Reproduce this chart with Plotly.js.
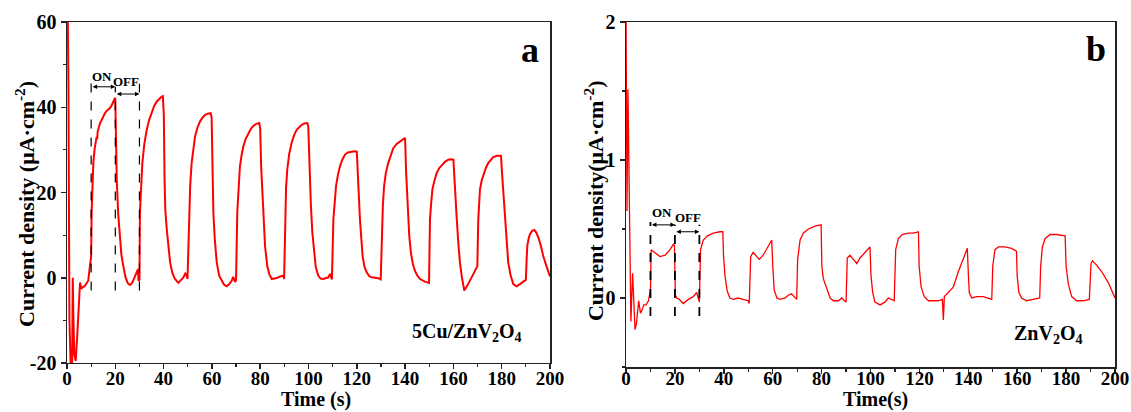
<!DOCTYPE html>
<html>
<head>
<meta charset="utf-8">
<script src="https://cdn.plot.ly/plotly-3.0.1.min.js"></script>
<style>html,body{margin:0;padding:0;background:#fff;}</style>
</head>
<body>
<div id="chart" style="width:1131px;height:412px;"></div>
<script>
// Panel a: 5Cu/ZnV2O4
const tA = [0, 0.6, 1.0, 1.6, 2.1, 2.4, 2.6, 3.0, 3.6, 4.2, 4.8, 5.4, 5.9, 6.5, 7.3, 8.0, 8.8, 9.5, 10.0,
  10.2, 10.9, 11.5, 12.0, 12.3, 12.5, 12.7, 13.7, 14.5, 15.7, 16.5, 17.8, 18.6, 19.3, 19.9,
  20.0, 20.3, 20.6, 21.2, 21.9, 22.5, 23.3, 24.2, 25.2, 26.1, 27.0, 28.0, 28.9, 29.4, 29.6, 30.0,
  30.2, 30.6, 31.2, 32.0, 33.0, 34.0, 35.1, 36.1, 37.1, 38.2, 39.2, 39.7,
  40.1, 40.4, 40.7, 41.3, 42.0, 42.7, 43.6, 44.7, 46.1, 47.2, 48.2, 49.0, 49.5, 49.9,
  50.5, 51.0, 51.6, 52.3, 53.0, 54.0, 55.1, 56.2, 57.2, 58.3, 59.5,
  59.9, 60.2, 60.6, 61.2, 62.0, 63.0, 64.0, 65.0, 66.1, 67.2, 68.2, 68.8, 69.6, 70.0,
  70.5, 71.0, 71.6, 72.3, 73.0, 74.0, 75.1, 76.1, 77.1, 78.3, 79.6,
  80.0, 80.4, 80.9, 81.4, 82.0, 82.9, 83.8, 84.8, 86.2, 87.2, 88.2, 89.6, 89.9,
  90.3, 90.7, 91.2, 92.0, 93.0, 94.0, 95.1, 96.1, 97.2, 98.3, 99.5,
  99.9, 100.4, 101.0, 101.6, 102.3, 103.0, 104.0, 105.0, 106.1, 107.2, 108.2, 108.9, 109.7,
  110.3, 110.8, 111.4, 112.2, 113.0, 114.0, 115.1, 116.3, 117.5, 119.0, 120.0,
  120.5, 121.3, 122.4, 123.2, 124.1, 125.1, 126.2, 127.5, 128.9, 129.9,
  130.3, 130.8, 131.3, 132.0, 133.0, 134.0, 135.1, 136.5, 137.9, 139.0, 140.0,
  140.4, 141.1, 141.7, 142.4, 143.2, 144.1, 145.1, 146.2, 147.2, 148.2, 149.9,
  150.3, 150.8, 151.3, 152.2, 153.1, 154.1, 155.2, 156.5, 157.9, 159.0, 160.0,
  160.5, 161.4, 162.0, 162.7, 163.5, 164.5, 165.7, 166.9, 168.2, 169.6, 169.9,
  170.3, 171.0, 171.7, 172.4, 173.4, 174.4, 175.5, 176.5, 178.0, 179.7,
  180.2, 181.4, 182.0, 182.7, 183.7, 184.8, 186.2, 187.2, 188.3, 189.2, 190.0,
  190.3, 190.6, 191.2, 191.7, 192.6, 193.5, 194.3, 195.2, 196.2, 197.2, 198.6, 200.0];
const jA = [80, 45, -10, -22, -22, 0, -8, -18, -19.5, -14, -6, -1.1, -2.6, -2.2, -2.0, -1.5, -0.7, 2.8, 5,
  15.3, 26.9, 30.5, 32.5, 33.1, 32.5, 34.3, 36.3, 37.3, 38.6, 39.2, 39.8, 40.6, 41.7, 42.2,
  42.0, 33, 23, 15, 9, 5.5, 2.8, 0.2, -1.3, -1.7, -1.2, 0.2, 1.6, 2.0, -0.7, -0.5,
  15.3, 21.5, 26.9, 31.3, 34.7, 37.0, 39.0, 40.3, 41.3, 42.0, 42.5, 42.6,
  38, 23, 16, 11.4, 6.8, 3.6, 1.2, -0.3, -1.2, -0.6, 0.1, 1.0, 0.6, -0.3,
  15.3, 21.5, 26.9, 30.5, 33.1, 35.2, 36.7, 37.6, 38.2, 38.5, 38.6,
  37.5, 25, 15.3, 9, 3.6, 0.5, -0.7, -1.6, -2.0, -1.5, -0.7, 0.2, -1.0, -0.5,
  15.3, 21, 26.1, 28.8, 30.8, 32.6, 33.9, 34.9, 35.6, 36.1, 36.3,
  35, 26, 19.1, 12.5, 7.5, 2.8, 0.8, -0.3, -0.2, 0.0, 0.3, 0.5, -0.3,
  15.3, 21, 25.4, 29, 31.6, 33.4, 34.7, 35.4, 35.9, 36.2, 36.3,
  35.5, 26, 16.8, 10.5, 5.9, 2.5, 0.5, -0.2, -0.3, -0.1, 0.1, 0.9, -0.4,
  13.7, 18, 21.5, 24.2, 26.1, 27.7, 28.9, 29.4, 29.6, 29.7, 29.6,
  22, 13.7, 5.1, 2.5, 1.3, 0.4, 0.1, 0.0, -0.1, -0.4,
  11.4, 17, 21.5, 24.5, 26.9, 28.8, 30.4, 31.4, 32.0, 32.5, 32.8,
  25, 15.3, 10, 5.9, 3.3, 1.6, 0.5, -0.3, -0.6, -0.9, -1.2,
  13.7, 17.5, 20.7, 22.9, 24.6, 25.7, 26.5, 27.2, 27.7, 27.8, 27.7,
  22, 13.7, 8.5, 3.6, 0.2, -3.0, -1.9, -0.7, 0.8, 2.4, 2.6,
  13.7, 20.7, 22.8, 24.2, 25.7, 26.9, 27.7, 28.3, 28.6, 28.6,
  24, 13.7, 8.5, 3.6, 0.5, -1.5, -2.0, -1.7, -1.2, -0.8, -0.5,
  4, 7.5, 9.3, 10.2, 11.0, 11.2, 10.6, 9.4, 7.5, 5.1, 2.6, 0.3];

// Panel b: ZnV2O4
const tB = [0, 0.4, 0.8, 1.8, 2.0, 2.7, 3.7, 4.3, 5.2, 5.9, 6.5, 7.3, 8.2, 9.2, 9.6, 10.0,
  10.3, 11.9, 13.9, 16.0, 18.0, 19.4, 19.8,
  20.2, 20.7, 21.8, 23.4, 25.5, 27.5, 28.9, 29.6, 30.0,
  30.5, 31.6, 33.3, 35.7, 38.4, 39.6,
  39.9, 40.5, 41.4, 42.5, 43.9, 45.9, 47.9, 50.0, 50.4,
  51.0, 52.0, 53.4, 54.5, 56.1, 58.2, 59.6,
  60.0, 60.6, 61.7, 63.0, 65.1, 66.4, 67.7, 68.8, 69.8,
  70.2, 71.2, 72.5, 74.6, 77.3, 79.3, 79.8,
  80.1, 80.7, 82.1, 83.5, 84.8, 86.9, 88.2, 89.6, 90.0,
  90.5, 91.6, 93.0, 94.4, 95.7, 97.8, 99.8,
  100.2, 100.9, 101.8, 103.9, 105.9, 107.3, 108.6, 109.7,
  110.3, 111.4, 113.0, 115.5, 117.5, 119.6,
  119.9, 120.7, 122.0, 123.7, 125.7, 127.7, 129.4, 129.8, 130.2, 130.7,
  132.5, 133.9, 135.9, 138.0, 139.6,
  140.0, 140.4, 141.4, 143.4, 146.1, 148.1, 149.6,
  150.0, 150.9, 152.3, 155.0, 157.7, 159.7,
  160.0, 160.7, 161.8, 163.8, 166.5, 169.2,
  169.6, 170.3, 171.4, 173.4, 176.1, 179.6,
  180.0, 180.9, 182.3, 184.3, 187.0, 189.5,
  190.2, 190.8, 192.4, 194.6, 197.3, 199.3, 200.0];
const jB = [2.1, 0.63, 1.51, 0.28, -0.17, 0.18, -0.23, -0.18, -0.02, -0.11, -0.09, -0.05, -0.05, -0.02, 0.04, 0.06,
  0.35, 0.33, 0.30, 0.31, 0.35, 0.39, 0.38,
  0.02, 0.0, -0.01, -0.04, -0.01, 0.01, 0.04, -0.01, -0.03,
  0.35, 0.42, 0.45, 0.47, 0.48, 0.48,
  0.30, 0.16, 0.05, 0.0, -0.01, 0.0, -0.01, -0.02, -0.04,
  0.30, 0.33, 0.30, 0.28, 0.31, 0.37, 0.42,
  0.24, 0.06, 0.0, -0.01, 0.0, 0.02, 0.03, 0.01, -0.01,
  0.28, 0.42, 0.47, 0.50, 0.52, 0.53, 0.53,
  0.23, 0.14, 0.07, 0.0, -0.02, -0.02, 0.0, -0.02, -0.03,
  0.29, 0.31, 0.28, 0.25, 0.29, 0.33, 0.37,
  0.16, 0.04, -0.03, -0.05, -0.03, 0.0, -0.01, -0.02,
  0.35, 0.43, 0.46, 0.47, 0.47, 0.48,
  0.23, 0.08, 0.01, -0.02, -0.02, -0.02, -0.01, -0.16, 0.01, 0.02,
  0.05, 0.08, 0.19, 0.29, 0.36,
  0.18, 0.04, 0.0, 0.01, 0.01, 0.0, -0.01,
  0.23, 0.35, 0.37, 0.37, 0.36, 0.34,
  0.16, 0.04, 0.0, -0.02, -0.01, 0.0,
  0.23, 0.37, 0.43, 0.46, 0.46, 0.45,
  0.23, 0.10, 0.01, -0.02, -0.02, -0.01,
  0.25, 0.27, 0.24, 0.19, 0.11, 0.02, 0.0];

// Tick labels
const xTicks = [0, 20, 40, 60, 80, 100, 120, 140, 160, 180, 200];
const xTickText = ['0', '20', '40', '60', '80', '100', '120', '140', '160', '180', '200'];
const yTicksA = [-20, 0, 20, 40, 60];
const yTickTextA = ['-20', '0', '20', '40', '60'];
const yTicksB = [0, 1, 2];
const yTickTextB = ['0', '1', '2'];

const FONT = 'Liberation Serif, Times New Roman, serif';
const RED = '#ff0000';

const traces = [
  {x: tA, y: jA, xaxis: 'x', yaxis: 'y', type: 'scatter', mode: 'lines',
   line: {color: RED, width: 2}, hoverinfo: 'skip'},
  {x: tB, y: jB, xaxis: 'x2', yaxis: 'y2', type: 'scatter', mode: 'lines',
   line: {color: RED, width: 1.3}, hoverinfo: 'skip'}
];

function xAxis(domain, anchor, standoff) {
  return {
    domain: domain, anchor: anchor, range: [0, 200],
    tickmode: 'array', tickvals: xTicks, ticktext: xTickText,
    ticks: 'outside', ticklen: 5, tickwidth: 1.5, tickcolor: '#222',
    ticklabelstandoff: standoff,
    minor: {dtick: 10, tick0: 0, ticks: 'outside', ticklen: 3, tickwidth: 1.2, tickcolor: '#222'},
    showline: true, linewidth: 1.5, linecolor: '#222', mirror: true,
    showgrid: false, zeroline: false,
    tickfont: {family: FONT, size: 19, weight: 'bold', color: '#000'}
  };
}
function yAxis(domain, anchor, range, tv, tt, mdt) {
  return {
    domain: domain, anchor: anchor, range: range,
    tickmode: 'array', tickvals: tv, ticktext: tt,
    ticks: 'outside', ticklen: 5, tickwidth: 1.5, tickcolor: '#222',
    minor: {dtick: mdt, tick0: 0, ticks: 'outside', ticklen: 3, tickwidth: 1.2, tickcolor: '#222'},
    showline: true, linewidth: 1.5, linecolor: '#222', mirror: true,
    showgrid: false, zeroline: false,
    tickfont: {family: FONT, size: 20, weight: 'bold', color: '#000'}
  };
}

const dashA = {color: '#000', width: 1.2, dash: 'dash'};
const dashB = {color: '#000', width: 1.8, dash: 'dash'};
const shapes = [
  {type: 'line', xref: 'x', yref: 'y', x0: 10, x1: 10, y0: -3, y1: 46, line: dashA},
  {type: 'line', xref: 'x', yref: 'y', x0: 20, x1: 20, y0: -3, y1: 44.8, line: dashA},
  {type: 'line', xref: 'x', yref: 'y', x0: 30, x1: 30, y0: -3, y1: 45.5, line: dashA},
  {type: 'line', xref: 'x2', yref: 'y2', x0: 10, x1: 10, y0: -0.13, y1: 0.55, line: dashB},
  {type: 'line', xref: 'x2', yref: 'y2', x0: 20, x1: 20, y0: -0.13, y1: 0.53, line: dashB},
  {type: 'line', xref: 'x2', yref: 'y2', x0: 30, x1: 30, y0: -0.13, y1: 0.53, line: dashB}
];

function arrow(xr, yr, x0, x1, y) {
  return {xref: xr, yref: yr, axref: xr, ayref: yr, x: x1, y: y, ax: x0, ay: y,
    text: '', showarrow: true, arrowside: 'end+start', arrowhead: 2, arrowsize: 0.9,
    arrowwidth: 1, arrowcolor: '#000'};
}
function txt(xr, yr, x, y, text, size, extra) {
  return Object.assign({xref: xr, yref: yr, x: x, y: y, text: text, showarrow: false,
    xanchor: 'center', yanchor: 'middle',
    font: {family: FONT, size: size, weight: 'bold', color: '#000'}}, extra || {});
}

const annotations = [
  arrow('x', 'y', 10, 20, 44.8),
  arrow('x', 'y', 20, 30, 43.1),
  txt('x', 'y', 14.4, 47.3, 'ON', 13),
  txt('x', 'y', 24.6, 46.1, 'OFF', 13),
  arrow('x2', 'y2', 10, 20, 0.53),
  arrow('x2', 'y2', 20, 30, 0.48),
  txt('x2', 'y2', 14.9, 0.62, 'ON', 13),
  txt('x2', 'y2', 25.2, 0.58, 'OFF', 13),
  txt('x domain', 'y domain', 0.9586, 0.918, 'a', 36),
  txt('x2 domain', 'y2 domain', 0.961, 0.922, 'b', 36),
  txt('x domain', 'y domain', 0.829, 0.088, '5Cu/ZnV<sub>2</sub>O<sub>4</sub>', 20),
  txt('x2 domain', 'y2 domain', 0.862, 0.093, 'ZnV<sub>2</sub>O<sub>4</sub>', 20),
  // axis titles
  txt('paper', 'paper', 0.238, -0.0928, 'Time (s)', 20),
  txt('paper', 'paper', 0.771, -0.0928, 'Time(s)', 20),
  txt('paper', 'paper', -0.0401, 0.4725, 'Current density (μA·cm<sup>-2</sup>)', 22, {textangle: -90}),
  txt('paper', 'paper', 0.5029, 0.481, 'Current density(μA·cm<sup>-2</sup>)', 22, {textangle: -90})
];

const layout = {
  width: 1131, height: 412,
  margin: {l: 67, r: 16, t: 22, b: 45},
  paper_bgcolor: '#fff', plot_bgcolor: '#fff',
  font: {family: FONT, color: '#000'},
  showlegend: false,
  xaxis: xAxis([0, 0.46088], 'y', -7),
  yaxis: yAxis([0.0116, 1], 'x', [-20, 60], yTicksA, yTickTextA, 10),
  xaxis2: xAxis([0.5334, 1], 'y2', -11),
  yaxis2: yAxis([0, 1], 'x2', [-0.5, 2], yTicksB, yTickTextB, 0.5),
  shapes: shapes,
  annotations: annotations
};

Plotly.newPlot('chart', traces, layout, {staticPlot: true, displayModeBar: false});
</script>
</body>
</html>
